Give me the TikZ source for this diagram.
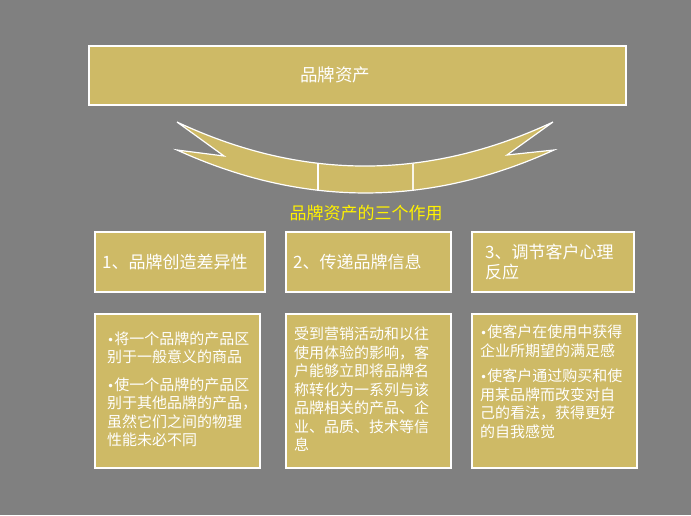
\documentclass[tikz,border=0pt]{standalone}
\usepackage{fontspec}
\setmainfont{Noto Sans CJK SC}
\newfontfamily\bulletfont{DejaVu Sans}
\usepackage{xcolor}

\definecolor{bgGray}{RGB}{128,128,128}
\definecolor{boxGold}{RGB}{206,186,102}
\newcommand{\bul}{{\bulletfont\fontsize{12}{12}\selectfont •}}

\begin{document}
\begin{tikzpicture}[x=1pt,y=-1pt,
		goldbox/.style={draw=white,line width=1.2pt,fill=boxGold,inner sep=0pt},
		headtext/.style={text=white,font=\fontsize{17}{20}\selectfont,align=left,inner sep=0pt},
		bodytext/.style={text=white,font=\fontsize{15}{18.5}\selectfont,align=left,inner sep=0pt}]
	% Background
	\fill[bgGray] (0,0) rectangle (691,515);
	\useasboundingbox (0,0) rectangle (691,515);
	% Top box
	\node[goldbox,minimum width=537pt,minimum height=59pt] (brand) at (357.5,75.5) {};
	\node[text=white,font=\fontsize{17.5}{20}\selectfont] (brandtext) at (335,75) {品牌资产};
	% Curved ribbon
	\path[fill=boxGold,draw=white,line width=1.2pt,line join=miter] (177,122)
		.. controls (302.3,180.7) and (427.7,180.7) .. (553,122) -- (507,155) -- (554,150)
		.. controls (428.3,207.3) and (302.7,207.3) .. (177,150) -- (224,156) -- cycle;
	\begin{scope}
		\clip (177,122) .. controls (302.3,180.7) and (427.7,180.7) .. (553,122) -- (554,150)
			.. controls (428.3,207.3) and (302.7,207.3) .. (177,150) -- cycle;
		\draw[white,line width=1.2pt] (318,150) -- (318,200);
		\draw[white!85!boxGold,line width=1.2pt] (413,150) -- (413,200);
	\end{scope}
	\node[text=yellow,font=\fontsize{17}{20}\selectfont] (roles) at (366,213) {品牌资产的三个作用};
	% Three headers
	\node[goldbox,minimum width=170pt,minimum height=60pt] (head1) at (180,262) {};
	\node[goldbox,minimum width=165pt,minimum height=60pt] (head2) at (368.5,262) {};
	\node[goldbox,minimum width=162pt,minimum height=60pt] (head3) at (553,262) {};
	\node[headtext,anchor=west] (headtext1) at (102,262) {1、品牌创造差异性};
	\node[headtext,anchor=west] (headtext2) at (293,262) {2、传递品牌信息};
	\node[headtext,anchor=west] (headtext3) at (485,262) {3、调节客户心理\\反应};
	% Three detail boxes
	\node[goldbox,minimum width=165pt,minimum height=154pt] (body1) at (177.5,391) {};
	\node[goldbox,minimum width=165pt,minimum height=154pt] (body2) at (368.5,391) {};
	\node[goldbox,minimum width=165pt,minimum height=154pt] (body3) at (554.5,391) {};
	\node[bodytext,anchor=north west] (bodytext1) at (107,331.5) {\bul 将一个品牌的产品区\\别于一般意义的商品\\[9pt]\bul 使一个品牌的产品区\\别于其他品牌的产品，\\虽然它们之间的物理\\性能未必不同};
	\node[bodytext,anchor=north west] (bodytext2) at (294,327) {受到营销活动和以往\\使用体验的影响，客\\户能够立即将品牌名\\称转化为一系列与该\\品牌相关的产品、企\\业、品质、技术等信\\息};
	\node[bodytext,anchor=north west] (bodytext3) at (480,325) {\bul 使客户在使用中获得\\企业所期望的满足感\\[7pt]\bul 使客户通过购买和使\\用某品牌而改变对自\\己的看法，获得更好\\的自我感觉};
\end{tikzpicture}
\end{document}
